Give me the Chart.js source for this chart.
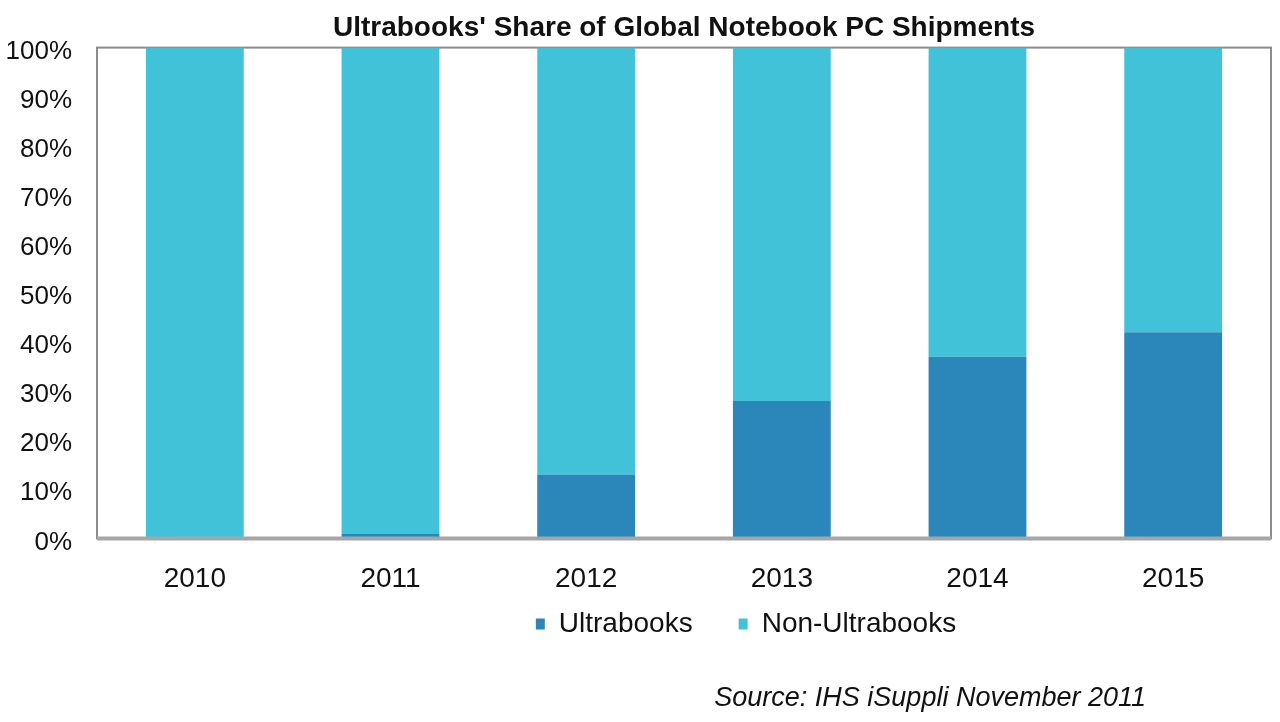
<!DOCTYPE html>
<html>
<head>
<meta charset="utf-8">
<script src="https://cdn.jsdelivr.net/npm/chart.js@4/dist/chart.umd.min.js"></script>
<style>
  html, body { margin: 0; padding: 0; background: #fff; }
  #wrap { width: 1280px; height: 722px; }
</style>
</head>
<body>
<div id="wrap"><canvas id="share-chart" width="1280" height="722"></canvas></div>
<script>
const years = ['2010', '2011', '2012', '2013', '2014', '2015'];
const ultrabooks = [0, 1, 13, 28, 37, 42];
const nonUltrabooks = [100, 99, 87, 72, 63, 58];
const yTicks = [0, 10, 20, 30, 40, 50, 60, 70, 80, 90, 100];

const darkBlue = '#2b86b9';
const lightBlue = '#42c2d9';
const fontFamily = '"Liberation Sans", Arial, sans-serif';

// gray frame around the plot area, like the original
const plotFrame = {
  id: 'plotFrame',
  beforeDatasetsDraw(chart) {
    const { ctx, chartArea: a } = chart;
    ctx.save();
    ctx.strokeStyle = '#8c8c8c';
    ctx.lineWidth = 2;
    ctx.strokeRect(a.left, a.top, a.right - a.left, a.bottom - a.top);
    ctx.restore();
  },
  afterDatasetsDraw(chart) {
    const { ctx, chartArea: a } = chart;
    ctx.save();
    ctx.strokeStyle = '#a6a6a6';
    ctx.lineWidth = 4;
    ctx.beginPath();
    ctx.moveTo(a.left, a.bottom);
    ctx.lineTo(a.right, a.bottom);
    ctx.stroke();
    ctx.restore();
  }
};

// source note in the bottom right corner
const sourceNote = {
  id: 'sourceNote',
  afterDraw(chart) {
    const ctx = chart.ctx;
    ctx.save();
    ctx.font = 'italic 27px ' + fontFamily;
    ctx.fillStyle = '#111';
    ctx.textAlign = 'right';
    ctx.textBaseline = 'alphabetic';
    ctx.fillText('Source: IHS iSuppli November 2011', 1146, 706);
    ctx.restore();
  }
};

// legend sits right of the plot centre and close under the year labels
const legendShift = {
  id: 'legendShift',
  afterLayout(chart) {
    const lg = chart.legend;
    if (!lg) return;
    const dx = 62;
    const dy = -56;
    lg.left += dx;
    lg.right += dx;
    lg.top += dy;
    lg.bottom += dy;
    if (lg.legendHitBoxes) lg.legendHitBoxes.forEach(b => { b.left += dx; b.top += dy; });
  }
};

const ctx = document.getElementById('share-chart').getContext('2d');

new Chart(ctx, {
  type: 'bar',
  data: {
    labels: years,
    datasets: [
      {
        label: 'Ultrabooks',
        data: ultrabooks,
        backgroundColor: darkBlue,
        categoryPercentage: 1,
        barPercentage: 0.5
      },
      {
        label: 'Non-Ultrabooks',
        data: nonUltrabooks,
        backgroundColor: lightBlue,
        categoryPercentage: 1,
        barPercentage: 0.5
      }
    ]
  },
  options: {
    responsive: false,
    animation: false,
    layout: {
      padding: { top: 11, left: 4, right: 9, bottom: 18 }
    },
    scales: {
      x: {
        stacked: true,
        grid: { display: false, drawTicks: false },
        border: { display: false },
        ticks: {
          color: '#111',
          padding: 24,
          font: { family: fontFamily, size: 28 }
        }
      },
      y: {
        stacked: true,
        min: 0,
        max: 100,
        afterBuildTicks(axis) {
          axis.ticks = yTicks.map(v => ({ value: v }));
        },
        afterFit(axis) {
          axis.width = 93;
        },
        grid: { display: false, drawTicks: false },
        border: { display: false },
        ticks: {
          color: '#111',
          padding: 25,
          labelOffset: 4,
          font: { family: fontFamily, size: 26 },
          callback: v => v + '%'
        }
      }
    },
    plugins: {
      title: {
        display: true,
        text: "Ultrabooks' Share of Global Notebook PC Shipments",
        fullSize: false,
        color: '#111',
        font: { family: fontFamily, size: 28, weight: 'bold' },
        padding: { top: 0, bottom: 3 }
      },
      legend: {
        position: 'bottom',
        fullSize: false,
        labels: {
          color: '#111',
          boxWidth: 9,
          boxHeight: 11,
          padding: 46,
          font: { family: fontFamily, size: 28 }
        }
      },
      tooltip: { enabled: false }
    }
  },
  plugins: [plotFrame, sourceNote, legendShift]
});
</script>
</body>
</html>
